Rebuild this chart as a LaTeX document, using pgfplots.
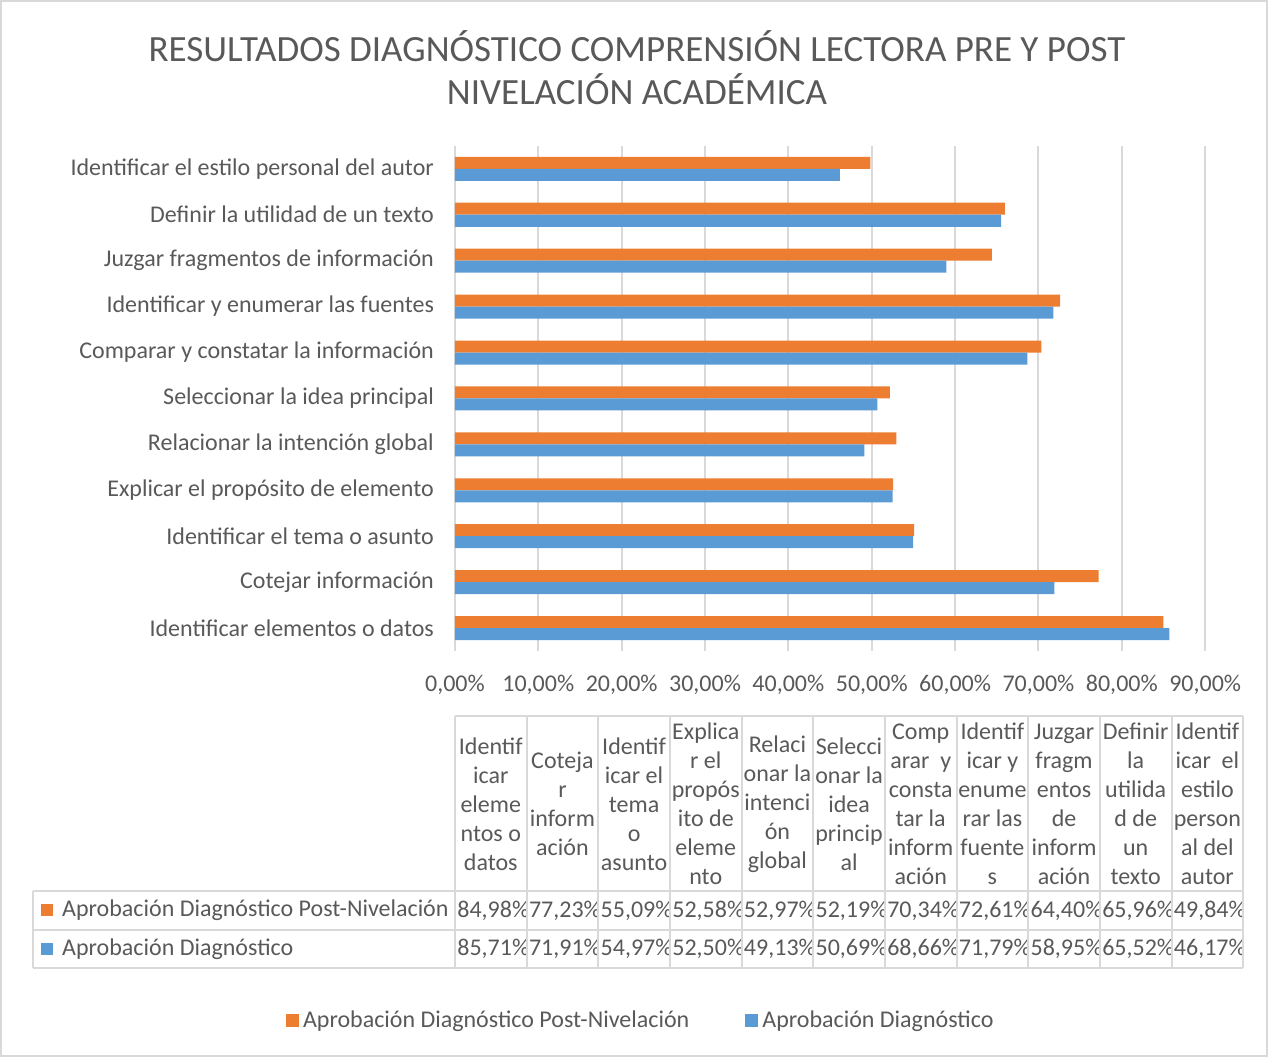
\documentclass[border=0pt]{standalone}
\usepackage{fontspec}
\setmainfont{Carlito}
\usepackage{pgfplots}
\pgfplotsset{compat=1.18}
\definecolor{txt}{HTML}{595959}
\definecolor{gridc}{HTML}{D9D9D9}
\definecolor{post}{HTML}{ED7D31}
\definecolor{diag}{HTML}{5B9BD5}
\pgfplotsset{sqlegend/.style={legend image code/.code={\fill[##1] (0pt,-3.25pt) rectangle (6.5pt,3.25pt);}}}
\newcommand\lbl{\fontsize{12}{14.5}\selectfont}
\begin{document}
\begin{tikzpicture}
\begin{axis}[
  at={(227.5pt,-73pt)}, anchor=north west,
  scale only axis, width=375pt, height=252.5pt,
  xbar, bar width=6pt,
  xmin=0, xmax=90, ymin=-0.5, ymax=10.5,
  xtick={0,10,...,90},
  xticklabels={{0,00\%},{10,00\%},{20,00\%},{30,00\%},{40,00\%},{50,00\%},{60,00\%},{70,00\%},{80,00\%},{90,00\%}},
  ytick={0,...,10},
  yticklabels={Identificar elementos o datos, Cotejar información, Identificar el tema o asunto,
    Explicar el propósito de elemento, Relacionar la intención global, Seleccionar la idea principal,
    Comparar y constatar la información, Identificar y enumerar las fuentes, Juzgar fragmentos de información,
    Definir la utilidad de un texto, Identificar el estilo personal del autor},
  axis line style={draw=none}, major tick length=0pt,
  xmajorgrids, grid style={draw=gridc, line width=1pt},
  tick label style={font=\lbl, text=txt},
  xticklabel style={yshift=-8.5pt},
  yticklabel style={xshift=-7pt},
  legend style={at={(0.249,-0.731)}, anchor=center, draw=none, fill=none,
    font=\lbl, text=txt,
    /tikz/every even column/.append style={column sep=26pt}},
  legend columns=2,
]
\addplot[sqlegend, fill=post, draw=none, bar shift=3pt] coordinates {
  (84.98,0) (77.23,1) (55.09,2) (52.58,3) (52.97,4) (52.19,5)
  (70.34,6) (72.61,7) (64.40,8) (65.96,9) (49.84,10)};
\addplot[sqlegend, fill=diag, draw=none, bar shift=-3pt] coordinates {
  (85.71,0) (71.91,1) (54.97,2) (52.50,3) (49.13,4) (50.69,5)
  (68.66,6) (71.79,7) (58.95,8) (65.52,9) (46.17,10)};
\legend{Aprobación Diagnóstico Post-Nivelación, Aprobación Diagnóstico}
\end{axis}
\begin{scope}[x=0.5pt,y=-0.5pt]
  % chart border
  \draw[gridc, line width=0.8pt] (1,1) rectangle (1267,1056);
  % title
  \node[font=\fontsize{18.5}{21.5}\selectfont, text=txt, align=center] at (637,68)
    {RESULTADOS DIAGNÓSTICO COMPRENSIÓN LECTORA PRE Y POST\\NIVELACIÓN ACADÉMICA};
  % data table: header
  \foreach \txt [count=\i from 0] in {
      {Identif\\icar\\eleme\\ntos o\\datos},
      {Coteja\\r\\inform\\ación},
      {Identif\\icar el\\tema\\o\\asunto},
      {Explica\\r el\\propós\\ito de\\eleme\\nto},
      {Relaci\\onar la\\intenci\\ón\\global},
      {Selecci\\onar la\\idea\\princip\\al},
      {Comp\\arar~ y\\consta\\tar la\\inform\\ación},
      {Identif\\icar y\\enume\\rar las\\fuente\\s},
      {Juzgar\\fragm\\entos\\de\\inform\\ación},
      {Definir\\la\\utilida\\d de\\un\\texto},
      {Identif\\icar~ el\\estilo\\person\\al del\\autor}}
    \node[font=\lbl, text=txt, align=center, inner sep=0pt]
      at ({455+71.636*(\i+0.5)},804) {\txt};
  % data table: values, clipped to their cells
  \foreach \v [count=\i from 0] in {{84,98\%},{77,23\%},{55,09\%},{52,58\%},{52,97\%},{52,19\%},{70,34\%},{72,61\%},{64,40\%},{65,96\%},{49,84\%}}
    {\begin{scope}
      \clip ({455+71.636*\i},891) rectangle ({455+71.636*(\i+1)},930);
      \node[font=\lbl, text=txt, inner sep=0pt, anchor=west] at ({457+71.636*\i},910.5) {\v};
    \end{scope}}
  \foreach \v [count=\i from 0] in {{85,71\%},{71,91\%},{54,97\%},{52,50\%},{49,13\%},{50,69\%},{68,66\%},{71,79\%},{58,95\%},{65,52\%},{46,17\%}}
    {\begin{scope}
      \clip ({455+71.636*\i},930) rectangle ({455+71.636*(\i+1)},968);
      \node[font=\lbl, text=txt, inner sep=0pt, anchor=west] at ({457+71.636*\i},949) {\v};
    \end{scope}}
  \fill[post] (41,904) rectangle (53,916);
  \fill[diag] (41,943) rectangle (53,955);
  \node[font=\lbl, text=txt, anchor=west, inner sep=0pt] at (62,910.5) {Aprobación Diagnóstico Post-Nivelación};
  \node[font=\lbl, text=txt, anchor=west, inner sep=0pt] at (62,949) {Aprobación Diagnóstico};
  % data table: grid lines
  \begin{scope}[draw=gridc, line width=1pt]
    \draw (455,716) -- (1243,716);
    \foreach \yy in {891,930,968} \draw (33,\yy) -- (1243,\yy);
    \draw (33,891) -- (33,968);
    \foreach \i in {0,...,11} \draw ({455+71.636*\i},716) -- ({455+71.636*\i},968);
  \end{scope}
\end{scope}
\end{tikzpicture}
\end{document}
